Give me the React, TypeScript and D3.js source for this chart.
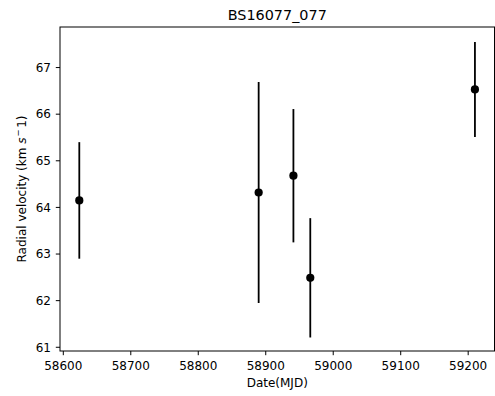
import React from "react";
import * as d3 from "d3";

const dates = [58623.7, 58889.5, 58941, 58966, 59210];
const velocities = [64.15, 64.32, 64.68, 62.49, 66.53];
const errors = [1.25, 2.37, 1.43, 1.28, 1.02];
const xTicks = [58600, 58700, 58800, 58900, 59000, 59100, 59200];
const yTicks = [61, 62, 63, 64, 65, 66, 67];

const W = 495, H = 396;
const M = { left: 60, right: 0.5, top: 27, bottom: 45 };
const FONT = "DejaVu Sans, sans-serif";

export default function App() {
  const x = d3.scaleLinear().domain([58595.1, 59239]).range([M.left, W - M.right]);
  const y = d3.scaleLinear().domain([60.92, 67.87]).range([H - M.bottom, M.top]);
  const x0 = M.left, x1 = W - M.right, y0 = H - M.bottom, y1 = M.top;
  return (
    <svg width={W} height={H} style={{ position: "absolute", left: 0, top: 0, background: "#fff" }}>
      <rect x={0} y={0} width={W} height={H} fill="#fff" />
      <text x={(x0 + x1) / 2} y={19.5} textAnchor="middle" fontFamily={FONT} fontSize={14.4} fill="#000">BS16077_077</text>
      {dates.map((d, i) => (
        <g key={i}>
          <line x1={x(d)} x2={x(d)} y1={y(velocities[i] - errors[i])} y2={y(velocities[i] + errors[i])} stroke="#000" strokeWidth={1.8} />
          <circle cx={x(d)} cy={y(velocities[i])} r={4.1} fill="#000" />
        </g>
      ))}
      <rect x={x0} y={y1} width={x1 - x0} height={y0 - y1} fill="none" stroke="#000" strokeWidth={1} />
      {xTicks.map((t) => (
        <g key={t}>
          <line x1={x(t)} x2={x(t)} y1={y0} y2={y0 + 4.2} stroke="#000" strokeWidth={1} />
          <text x={x(t)} y={y0 + 19} textAnchor="middle" fontFamily={FONT} fontSize={12} fill="#000">{t}</text>
        </g>
      ))}
      {yTicks.map((t) => (
        <g key={t}>
          <line x1={x0} x2={x0 - 4.2} y1={y(t)} y2={y(t)} stroke="#000" strokeWidth={1} />
          <text x={x0 - 9} y={y(t)} dy="0.36em" textAnchor="end" fontFamily={FONT} fontSize={12} fill="#000">{t}</text>
        </g>
      ))}
      <text x={(x0 + x1) / 2} y={y0 + 35.5} textAnchor="middle" fontFamily={FONT} fontSize={12} fill="#000">Date(MJD)</text>
      <text transform={`translate(${25.5},${(y0 + y1) / 2}) rotate(-90)`} textAnchor="middle" fontFamily={FONT} fontSize={12} fill="#000">
        Radial velocity (km <tspan fontStyle="italic">s</tspan><tspan dx={1} dy={-5} fontSize={8.5}>−</tspan><tspan dx={1.5} dy={5}>1)</tspan>
      </text>
    </svg>
  );
}
